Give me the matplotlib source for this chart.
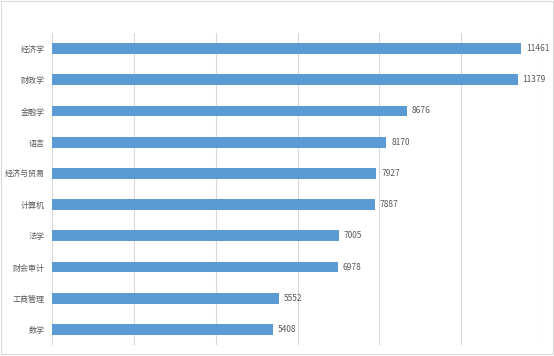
import matplotlib
matplotlib.use("Agg")
import matplotlib.pyplot as plt
from matplotlib.patches import Rectangle

plt.rcParams['font.family'] = ['Noto Sans CJK SC', 'DejaVu Sans']

categories = ["经济学", "财政学", "金融学", "语言", "经济与贸易", "计算机", "法学", "财会审计", "工商管理", "数学"]
values = [11461, 11379, 8676, 8170, 7927, 7887, 7005, 6978, 5552, 5408]
x_ticks = [0, 2000, 4000, 6000, 8000, 10000, 12000]

fig = plt.figure(figsize=(5.54, 3.56), dpi=100)
ax = fig.add_axes([52/554, 1 - 345/356, (543-52)/554, (345-33)/356])

y = list(range(len(categories)))
ax.barh(y, values, height=0.34, color="#5B9BD5", zorder=3)
ax.set_ylim(len(categories) - 0.5, -0.5)
ax.set_xlim(0, 12000)
ax.set_yticks(y)
ax.set_yticklabels(categories, fontsize=5.8, color="#595959")
ax.set_xticks(x_ticks)
ax.set_xticklabels([])
ax.tick_params(axis='both', length=0, pad=5)
ax.grid(axis='x', color="#D9D9D9", linewidth=0.8, zorder=0)
for s in ax.spines.values():
    s.set_visible(False)

for yi, v in zip(y, values):
    ax.text(v + 120, yi, str(v), va='center', ha='left', fontsize=6, color="#595959")

fig.patches.append(Rectangle((1/554, 2/356), 552/554, 353/356, transform=fig.transFigure,
                             fill=False, edgecolor="#D9D9D9", linewidth=0.8))

fig.savefig("out.png", dpi=100)
